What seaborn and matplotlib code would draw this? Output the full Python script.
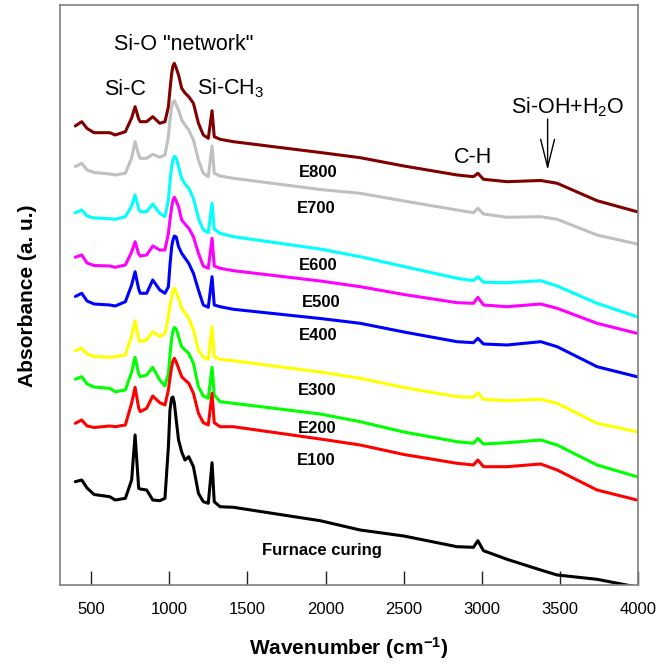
import numpy as np
import pandas as pd
import matplotlib
matplotlib.use('Agg')
import matplotlib.pyplot as plt
import seaborn as sns

# wavenumber grid (cm-1) shared by all spectra
wavenumber = [400, 441, 475, 520, 620, 655, 720, 760, 782, 805, 815, 856, 895, 940, 973,
              995, 1005, 1016, 1024, 1033, 1045, 1060, 1080, 1101, 1125, 1155, 1187, 1218,
              1250, 1274, 1288, 1325, 1410, 1965, 2221, 2500, 2840, 2945, 2973, 3009, 3160,
              3375, 3480, 3735, 3990]

# absorbance (a.u., stacked spectra as in the figure)
e800 = [459, 463.3, 456.5, 452.3, 452.3, 450, 453.3, 467, 478.3, 466, 463.3, 463.3, 468.3, 461.7, 463.3,
        478.3, 495, 511.7, 519, 521.7, 517, 510, 496.7, 492, 488.3, 481.7, 461.7, 450,
        446.7, 474.3, 448.3, 445.7, 443.3, 432.5, 427.3, 419, 410, 408.3, 411.7, 405.7, 403.3,
        404.5, 401.7, 384.3, 373.3]
e700 = [418.3, 421.7, 415, 412.5, 411, 410, 411.7, 427, 443.3, 430, 426.7, 426.7, 430.7, 427.7, 430,
        448.3, 465, 478.3, 483, 484.3, 480, 475, 465, 460, 455, 445, 425, 411.7,
        408.3, 439, 411.7, 409, 406.7, 395.5, 391.7, 384, 375, 372.3, 376.7, 371, 367.7,
        368.3, 365.7, 350, 341]
e600 = [372.3, 375, 369, 367, 366.3, 365.7, 368.3, 379, 390, 376, 373.3, 373.3, 381, 371.7, 368.3,
        385, 403, 418.3, 425, 428.5, 427, 418, 406.7, 401, 396.7, 386.7, 366.7, 355,
        352.3, 381.7, 355.7, 351.7, 348.3, 336, 328.3, 318.5, 306.7, 304.3, 308.3, 302.7, 302.3,
        304.3, 299, 281.7, 268.3]
e500 = [327.7, 330, 322, 319.5, 319, 317.7, 320, 333, 343.3, 331, 329, 330, 339, 335, 335,
        351.7, 365, 378.3, 385, 387.7, 384, 378.3, 365, 361, 356.7, 348.3, 331.7, 319,
        316.7, 346.7, 319, 316.7, 314.3, 304, 298.3, 290.5, 282.3, 281.7, 287.7, 280, 278.3,
        281, 276.7, 261.7, 251.7]
e400 = [288.5, 291.7, 284, 281, 280, 279, 283.3, 300, 313.3, 296, 291.7, 291.7, 305, 295, 291.7,
        298.3, 320, 338.3, 345, 349, 348, 338.3, 331.7, 327, 321.7, 311.7, 295, 280,
        277.7, 308.3, 280, 278.3, 275.7, 266.5, 261.7, 253, 243.3, 242.3, 246.7, 241, 240,
        243.3, 238.3, 218.3, 208.3]
e300 = [234.3, 236.7, 231, 228.5, 227.7, 228.3, 230, 249, 264.3, 246, 243.3, 245, 253.3, 248.3, 251.7,
        268.3, 280, 288.3, 294, 296.7, 293, 286.7, 276.7, 272, 266.7, 255, 235, 227.7,
        225.7, 258.3, 228.3, 225.7, 224.3, 213, 206.7, 197.5, 188.3, 187.7, 192.3, 185.7, 184.3,
        185.7, 181.7, 161.7, 153.3]
e200 = [205.7, 208.3, 201, 198, 196.7, 193.3, 195, 213, 227.7, 211, 208.3, 210, 217.7, 205, 199,
        211.7, 230, 246.7, 254, 257.5, 256, 248.3, 238.3, 235, 231.7, 221.7, 198.3, 189,
        186.7, 217.7, 190, 183.3, 181.7, 171, 163.3, 153, 143.3, 141.7, 146.7, 141, 142.3,
        145, 140, 120, 108.3]
e100 = [161.7, 165, 159, 157.5, 159, 158.3, 160, 182, 197.7, 177, 173.3, 176.7, 189, 182.3, 180,
        195, 207, 218.3, 224, 226.7, 223, 216.7, 208.3, 205, 201.7, 191.7, 171.7, 162.3,
        160, 191.7, 162.3, 158.3, 158.3, 146, 140, 130.5, 121.7, 120, 125, 118.3, 118.3,
        121, 115, 95, 85]
furnace = [103.3, 105, 97, 90.5, 88.3, 85, 86.7, 105, 150, 96.7, 96, 95, 85, 84.3, 86.7,
           138.3, 175, 187, 188, 182, 165, 145, 133, 125, 128.3, 118.3, 91.7, 83.3,
           81.7, 122.3, 83.3, 78.3, 77.7, 64.3, 55, 49, 38.3, 37.7, 44.3, 34.3, 25.7,
           15, 10, 5.7, -2]

samples = ['E800', 'E700', 'E600', 'E500', 'E400', 'E300', 'E200', 'E100', 'Furnace curing']
spectra = [e800, e700, e600, e500, e400, e300, e200, e100, furnace]
colors = ['#800000', '#C0C0C0', '#00FFFF', '#FF00FF', '#0000FF', '#FFFF00', '#00FF00', '#FF0000', '#000000']

# label positions (wavenumber, absorbance) next to each spectrum
label_x = [1830, 1815, 1830, 1850, 1830, 1825, 1825, 1815]
label_y = [408, 372, 315, 278, 245, 190, 152, 120]

df = pd.concat([pd.DataFrame({'wavenumber': wavenumber, 'absorbance': s, 'sample': name})
                for name, s in zip(samples, spectra)], ignore_index=True)

sns.set_style('white')
plt.rcParams['font.family'] = ['Liberation Sans', 'DejaVu Sans']
plt.rcParams['text.color'] = 'black'
plt.rcParams['axes.labelcolor'] = 'black'
plt.rcParams['xtick.color'] = 'black'
plt.rcParams['mathtext.fontset'] = 'custom'
plt.rcParams['mathtext.rm'] = 'Liberation Sans'
plt.rcParams['mathtext.it'] = 'Liberation Sans:italic'
plt.rcParams['mathtext.bf'] = 'Liberation Sans:bold'

fig = plt.figure(figsize=(6.66, 6.68), dpi=100)
ax = fig.add_axes([0.0896, 0.1238, 0.8691, 0.868])

sns.lineplot(data=df, x='wavenumber', y='absorbance', hue='sample', hue_order=samples,
             palette=colors, sort=False, estimator=None, legend=False, linewidth=2.2, ax=ax)

ax.set_xlim(300, 4000)
ax.set_ylim(-0.3, 579.5)
ax.set_xticks([500, 1000, 1500, 2000, 2500, 3000, 3500, 4000])
ax.set_yticks([])
ax.tick_params(axis='x', direction='in', length=10, width=1, color='#222222',
               labelsize=12, pad=12, bottom=True)
for sp in ax.spines.values():
    sp.set_color('#808080')
    sp.set_linewidth(1.2)

ax.set_xlabel(r'Wavenumber (cm$^{\mathbf{-1}}$)', fontsize=15, fontweight='bold', labelpad=13)
ax.set_ylabel('Absorbance (a. u.)', fontsize=15, fontweight='bold', labelpad=16)

for name, lx, ly in zip(samples[:-1], label_x, label_y):
    ax.text(lx, ly, name, fontsize=12, fontweight='bold', ha='left', va='baseline')
ax.text(1978, 30, 'Furnace curing', fontsize=12, fontweight='bold', ha='center', va='baseline')

# band assignments
ax.text(1091, 535, 'Si-O "network"', fontsize=15.5, ha='center', va='baseline')
ax.text(718, 490, 'Si-C', fontsize=15.5, ha='center', va='baseline')
ax.text(1176, 491, r'Si-CH$_{\mathrm{3}}$', fontsize=15.5, ha='left', va='baseline')
ax.text(2943, 422, 'C-H', fontsize=15.5, ha='center', va='baseline')
ax.text(3185, 472, r'Si-OH+H$_{\mathrm{2}}$O', fontsize=15.5, ha='left', va='baseline')
ax.annotate('', xy=(3419, 415), xytext=(3419, 466),
            arrowprops=dict(arrowstyle='->,head_length=2.0,head_width=0.5', lw=1, color='k',
                            shrinkA=0, shrinkB=0))

fig.savefig('out.png', dpi=100)
